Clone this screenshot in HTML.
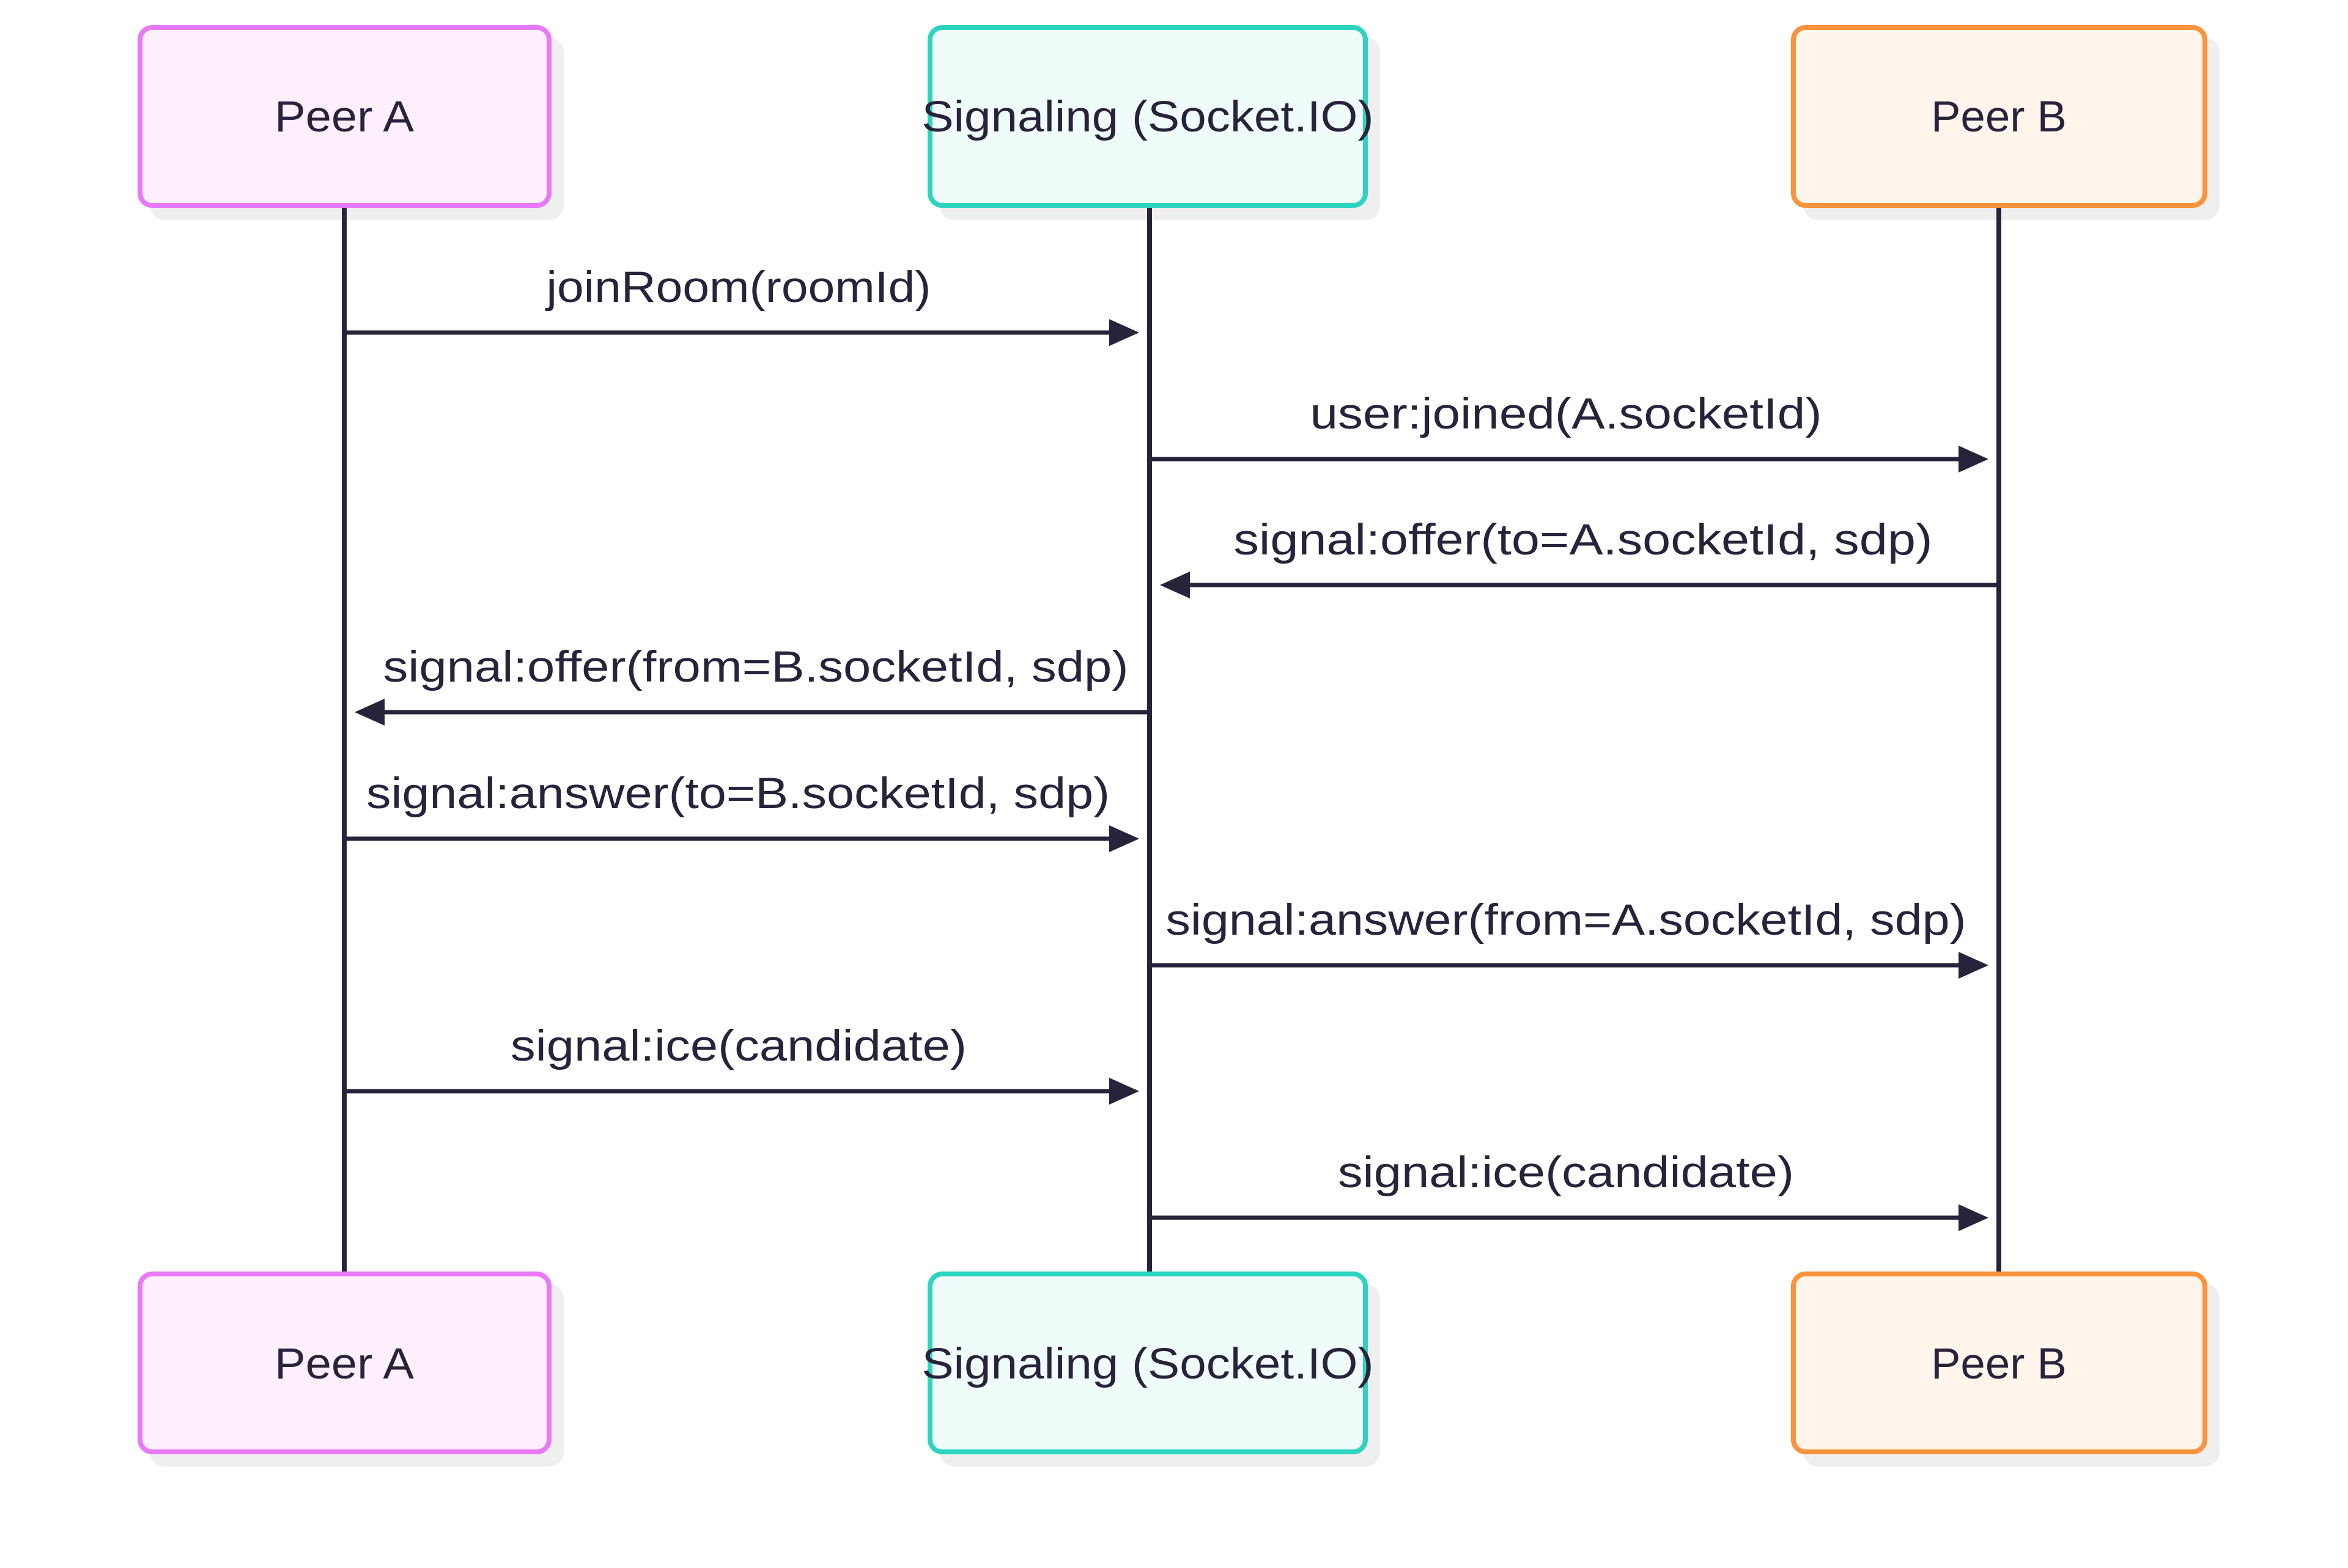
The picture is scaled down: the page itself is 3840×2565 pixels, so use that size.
<!DOCTYPE html>
<html><head><meta charset="utf-8"><style>html,body{margin:0;padding:0;background:#fff}svg{display:block}</style></head>
<body>
<svg width="3840" height="2565" viewBox="0 0 3840 2565" xmlns="http://www.w3.org/2000/svg" font-family="'Liberation Sans', sans-serif" fill="#28233b">
<g fill="#efefef">
<rect x="245" y="61" width="677" height="299" rx="24"/>
<rect x="1537" y="61" width="720" height="299" rx="24"/>
<rect x="2949" y="61" width="681" height="299" rx="24"/>
<rect x="245" y="2100" width="677" height="299" rx="24"/>
<rect x="1537" y="2100" width="720" height="299" rx="24"/>
<rect x="2949" y="2100" width="681" height="299" rx="24"/>
</g>
<g stroke="#28233b" stroke-width="8">
<line x1="563" y1="340" x2="563" y2="2080"/>
<line x1="1880" y1="340" x2="1880" y2="2080"/>
<line x1="3269" y1="340" x2="3269" y2="2080"/>
</g>
<g stroke-width="8">
<rect x="229" y="45" width="669" height="291" rx="20" fill="#fdf0fc" stroke="#e879f9"/>
<rect x="1521" y="45" width="712" height="291" rx="20" fill="#effcf9" stroke="#2dd4bf"/>
<rect x="2933" y="45" width="673" height="291" rx="20" fill="#fff5eb" stroke="#fb923c"/>
<rect x="229" y="2084" width="669" height="291" rx="20" fill="#fdf0fc" stroke="#e879f9"/>
<rect x="1521" y="2084" width="712" height="291" rx="20" fill="#effcf9" stroke="#2dd4bf"/>
<rect x="2933" y="2084" width="673" height="291" rx="20" fill="#fff5eb" stroke="#fb923c"/>
</g>
<g font-size="71" text-anchor="middle">
<text x="563" y="215" textLength="228" lengthAdjust="spacingAndGlyphs">Peer A</text>
<text x="1877" y="215" textLength="739" lengthAdjust="spacingAndGlyphs">Signaling (Socket.IO)</text>
<text x="3269" y="215" textLength="222" lengthAdjust="spacingAndGlyphs">Peer B</text>
<text x="563" y="2255" textLength="228" lengthAdjust="spacingAndGlyphs">Peer A</text>
<text x="1877" y="2255" textLength="739" lengthAdjust="spacingAndGlyphs">Signaling (Socket.IO)</text>
<text x="3269" y="2255" textLength="222" lengthAdjust="spacingAndGlyphs">Peer B</text>
</g>
<g stroke="#28233b" stroke-width="7">
<line x1="567" y1="544" x2="1820" y2="544"/>
<line x1="1884" y1="751" x2="3210" y2="751"/>
<line x1="3265" y1="957" x2="1940" y2="957"/>
<line x1="1876" y1="1165" x2="622" y2="1165"/>
<line x1="567" y1="1372" x2="1820" y2="1372"/>
<line x1="1884" y1="1579" x2="3210" y2="1579"/>
<line x1="567" y1="1785" x2="1820" y2="1785"/>
<line x1="1884" y1="1992" x2="3210" y2="1992"/>
</g>
<g fill="#28233b">
<polygon points="1863,544 1814,522 1814,566"/>
<polygon points="3252,751 3203,729 3203,773"/>
<polygon points="1897,957 1946,935 1946,979"/>
<polygon points="580,1165 629,1143 629,1187"/>
<polygon points="1863,1372 1814,1350 1814,1394"/>
<polygon points="3252,1579 3203,1557 3203,1601"/>
<polygon points="1863,1785 1814,1763 1814,1807"/>
<polygon points="3252,1992 3203,1970 3203,2014"/>
</g>
<g font-size="71" text-anchor="middle">
<text x="1208" y="494" textLength="629" lengthAdjust="spacingAndGlyphs">joinRoom(roomId)</text>
<text x="2561" y="701" textLength="837" lengthAdjust="spacingAndGlyphs">user:joined(A.socketId)</text>
<text x="2589" y="907" textLength="1143" lengthAdjust="spacingAndGlyphs">signal:offer(to=A.socketId, sdp)</text>
<text x="1236" y="1115" textLength="1219" lengthAdjust="spacingAndGlyphs">signal:offer(from=B.socketId, sdp)</text>
<text x="1207" y="1322" textLength="1216" lengthAdjust="spacingAndGlyphs">signal:answer(to=B.socketId, sdp)</text>
<text x="2561" y="1529" textLength="1309" lengthAdjust="spacingAndGlyphs">signal:answer(from=A.socketId, sdp)</text>
<text x="1208" y="1735" textLength="746" lengthAdjust="spacingAndGlyphs">signal:ice(candidate)</text>
<text x="2561" y="1942" textLength="746" lengthAdjust="spacingAndGlyphs">signal:ice(candidate)</text>
</g>
</svg>
</body></html>
